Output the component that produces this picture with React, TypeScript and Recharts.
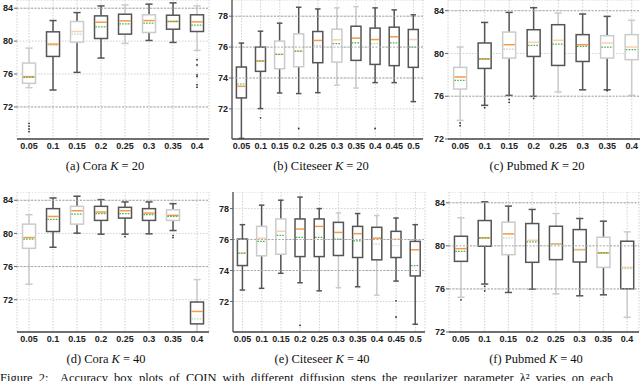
import React from 'react';
import { ComposedChart, Bar, XAxis, YAxis, CartesianGrid, ReferenceLine } from 'recharts';

const stepsTo04 = ['0.05', '0.1', '0.15', '0.2', '0.25', '0.3', '0.35', '0.4'];
const stepsTo05 = ['0.05', '0.1', '0.15', '0.2', '0.25', '0.3', '0.35', '0.4', '0.45', '0.5'];

// each row: [whiskerLow, q1, median, mean, q3, whiskerHigh]
const coraK20Stats = [
  [74.34, 74.87, 75.68, 75.6, 77.33, 79.15],
  [74.06, 78.14, 79.64, 79.47, 81.13, 82.5],
  [76.2, 79.88, 81.17, 80.85, 82.38, 83.47],
  [77.94, 80.32, 82.3, 81.74, 83.07, 84.28],
  [79.72, 80.85, 82.46, 82.1, 83.27, 84.4],
  [80.08, 81.05, 82.5, 82.2, 83.2, 84.5],
  [79.84, 81.45, 82.38, 82.4, 83.15, 84.65],
  [78.87, 81.17, 82.34, 81.94, 83.2, 84.28],
];
const coraK20Outliers = [[70.0, 69.66, 69.33, 69.0], [], [], [], [], [], [], [77.74, 77.1, 75.9, 75.7, 74.7, 74.4]];

const citeseerK20Stats = [
  [70.09, 72.71, 73.46, 73.61, 74.71, 76.26],
  [72.02, 74.43, 75.1, 75.1, 76.0, 77.03],
  [73.03, 74.6, 75.53, 75.53, 76.39, 77.55],
  [72.99, 74.73, 75.74, 75.74, 76.86, 78.58],
  [73.05, 74.99, 76.43, 76.1, 77.01, 78.47],
  [73.53, 75.03, 76.47, 76.22, 77.16, 78.54],
  [73.35, 75.14, 76.58, 76.28, 77.35, 78.62],
  [73.7, 74.88, 76.49, 76.22, 77.23, 78.54],
  [73.7, 74.8, 76.67, 76.28, 77.29, 78.41],
  [72.47, 74.69, 76.49, 76.0, 77.14, 78.09],
];
const citeseerK20Outliers = [[], [71.42], [], [70.73], [], [], [], [70.73], [], []];

const pubmedK20Stats = [
  [73.74, 76.67, 77.8, 77.49, 78.7, 80.6],
  [75.15, 78.6, 79.48, 79.5, 80.98, 82.9],
  [76.08, 79.57, 80.82, 80.41, 82.0, 83.84],
  [75.99, 79.72, 81.04, 80.76, 82.22, 84.28],
  [76.4, 78.88, 81.23, 80.88, 82.69, 83.78],
  [76.6, 79.25, 80.82, 80.66, 81.76, 83.69],
  [76.6, 79.57, 80.98, 80.6, 81.66, 83.47],
  [76.08, 79.42, 80.6, 80.35, 81.76, 83.1],
];
const pubmedK20Outliers = [[73.5, 73.25], [74.93], [75.7, 75.43], [75.8], [], [], [76.52], []];

const coraK40Stats = [
  [73.87, 78.2, 79.5, 79.3, 81.12, 82.26],
  [78.33, 80.23, 82.05, 81.69, 82.99, 84.28],
  [80.03, 81.12, 82.74, 82.34, 83.27, 84.49],
  [79.91, 81.57, 82.58, 82.38, 83.27, 84.08],
  [79.91, 81.85, 82.74, 82.38, 83.15, 83.8],
  [79.95, 81.57, 82.46, 82.26, 82.99, 83.8],
  [80.35, 81.57, 82.18, 82.05, 82.86, 83.59],
  [68.1, 69.08, 70.58, 69.69, 71.72, 74.43],
];
const coraK40Outliers = [[], [], [], [], [79.62], [], [79.74, 79.5], []];

const citeseerK40Stats = [
  [72.74, 74.32, 75.12, 75.12, 76.03, 76.96],
  [72.85, 74.95, 76.09, 75.88, 76.85, 78.22],
  [73.82, 75.05, 76.53, 76.27, 77.33, 78.54],
  [73.21, 74.9, 76.68, 76.14, 77.33, 78.74],
  [72.69, 74.9, 76.85, 76.14, 77.33, 78.0],
  [72.89, 74.97, 76.46, 76.03, 77.11, 77.72],
  [72.95, 74.84, 76.38, 75.92, 76.85, 77.68],
  [72.41, 74.69, 76.09, 75.7, 76.79, 77.55],
  [73.32, 74.84, 76.03, 75.6, 76.53, 77.39],
  [70.53, 73.65, 75.34, 74.32, 75.88, 76.96],
];
const citeseerK40Outliers = [[], [], [], [70.46], [], [], [], [], [72.04, 71.0], []];

const pubmedK40Stats = [
  [75.23, 78.56, 79.74, 79.49, 80.89, 82.6],
  [76.45, 79.96, 80.74, 80.74, 82.35, 84.09],
  [75.67, 79.18, 81.11, 80.74, 82.2, 83.69],
  [75.98, 78.47, 80.52, 80.36, 82.07, 83.38],
  [75.54, 78.72, 80.18, 80.18, 81.82, 83.0],
  [75.36, 78.5, 79.65, 79.65, 81.51, 82.54],
  [75.45, 78.0, 79.34, 79.34, 80.8, 82.29],
  [73.37, 76.01, 78.0, 77.88, 80.43, 81.3],
];
const pubmedK40Outliers = [[74.99], [76.23, 75.82], [], [], [], [], [], []];

const ticks4 = [72, 76, 80, 84];
const ticks2 = [72, 74, 76, 78];

// style codes per box: box edge (D/L), whisker (D/L), median (S/F), mean (S/F)
const coraK20Look = ['LLSS', 'DDSF', 'LDFF', 'DDSS', 'DLSS', 'LDSS', 'DDSS', 'DLSS'];
const citeseerK20Look = ['DDSS', 'DDSS', 'LDFS', 'LDFS', 'DDSF', 'LLFS', 'DLSS', 'DDSF', 'DDSS', 'DDFS'];
const pubmedK20Look = ['LLSS', 'DDSS', 'LDSF', 'DDFS', 'DLFS', 'DDSS', 'LDFS', 'LLFS'];
const coraK40Look = ['LLSS', 'DDSS', 'LDSS', 'DDSS', 'DDSS', 'DDSS', 'LDSS', 'DLSF'];
const citeseerK40Look = ['DDFS', 'LDFS', 'LDFS', 'DDSS', 'DDSS', 'DLSS', 'DDSS', 'DLSF', 'DDFF', 'DDSS'];
const pubmedK40Look = ['DLSS', 'DDSS', 'LDSF', 'DDFS', 'DLSF', 'DDSF', 'LDSS', 'DLFF'];

const DARK = '#555555';
const LIGHT = '#cbcbcb';
const ORANGE = '#f59a45';
const ORANGE_FAINT = '#f8d0ab';
const GREEN = '#4fae4f';
const GREEN_FAINT = '#b8d9b8';

const BoxShape = (props: any) => {
  const { x, y, width, height, payload } = props;
  if (!payload || !payload.stats) return null;
  const [low, q1, med, mean, q3, high] = payload.stats;
  const top = Math.min(y, y + height);
  const h = Math.abs(height);
  const k = h / (high - low);
  const Y = (v: number) => top + (high - v) * k;
  const look: string = payload.look;
  const boxC = look[0] === 'D' ? DARK : LIGHT;
  const whC = look[1] === 'D' ? DARK : LIGHT;
  const medC = look[2] === 'S' ? ORANGE : ORANGE_FAINT;
  const meanC = look[3] === 'S' ? GREEN : GREEN_FAINT;
  const cx = x + width / 2;
  const cap = width * 0.55;
  return (
    <g>
      <line x1={cx} x2={cx} y1={Y(high)} y2={Y(q3)} stroke={whC} strokeWidth={1.5} />
      <line x1={cx} x2={cx} y1={Y(q1)} y2={Y(low)} stroke={whC} strokeWidth={1.5} />
      <line x1={cx - cap / 2} x2={cx + cap / 2} y1={Y(high)} y2={Y(high)} stroke={whC} strokeWidth={1.5} />
      <line x1={cx - cap / 2} x2={cx + cap / 2} y1={Y(low)} y2={Y(low)} stroke={whC} strokeWidth={1.5} />
      <rect x={x} y={Y(q3)} width={width} height={Y(q1) - Y(q3)} fill="#ffffff" stroke={boxC} strokeWidth={1.5} />
      <line x1={x + 0.8} x2={x + width - 0.8} y1={Y(med)} y2={Y(med)} stroke={medC} strokeWidth={1.5} />
      <line x1={x + 0.8} x2={x + width - 0.8} y1={Y(mean)} y2={Y(mean)} stroke={meanC} strokeWidth={1.2} strokeDasharray="1.6 1.2" />
      {(payload.out as number[]).map((v, i) => (
        <circle key={i} cx={cx} cy={Y(v)} r={0.9} fill="#333" />
      ))}
    </g>
  );
};

type PanelProps = {
  cats: string[];
  stats: number[][];
  outliers: number[][];
  look: string[];
  domain: [number, number];
  ticks: number[];
  darkLines: number[];
  left: number;
  top: number;
  width: number;
  height: number;
  yWidth: number;
  marginRight: number;
  leftAxis: boolean;
  rightBorder?: string;
};

const tickFont = { fontSize: 9, fontWeight: 700, fill: '#222', fontFamily: 'Liberation Sans, Arial, sans-serif' };

function Panel(p: PanelProps) {
  const data = p.cats.map((c, i) => ({
    step: c,
    range: [p.stats[i][0], p.stats[i][5]],
    stats: p.stats[i],
    out: p.outliers[i],
    look: p.look[i],
  }));
  return (
    <div style={{ position: 'absolute', left: p.left, top: p.top }}>
      <ComposedChart
        width={p.width}
        height={p.height}
        data={data}
        margin={{ top: 0, right: p.marginRight, bottom: 0, left: 0 }}
        barCategoryGap="23%"
      >
        <CartesianGrid yAxisId="l" stroke="#d0d0d0" strokeDasharray="1.5 1.5" />
        {p.darkLines.map((v) => (
          <ReferenceLine key={v} yAxisId="l" y={v} stroke="#a8a8a8" strokeDasharray="2 1.5" />
        ))}
        <XAxis
          dataKey="step"
          interval={0}
          tickLine={false}
          axisLine={{ stroke: '#444', strokeWidth: 1.5 }}
          tick={tickFont}
          tickSize={2}
          tickMargin={2}
          height={18}
        />
        <YAxis
          yAxisId="l"
          type="number"
          domain={p.domain}
          ticks={p.ticks}
          allowDataOverflow
          width={p.yWidth}
          axisLine={p.leftAxis ? { stroke: '#666', strokeWidth: 1.5 } : false}
          tickLine={{ stroke: '#666' }}
          tickSize={3}
          tickMargin={1}
          tick={tickFont}
        />
        <YAxis
          yAxisId="r"
          orientation="right"
          type="number"
          domain={p.domain}
          width={0}
          tick={false}
          tickLine={false}
          axisLine={p.rightBorder ? { stroke: p.rightBorder, strokeWidth: 2 } : false}
        />
        <Bar yAxisId="l" dataKey="range" shape={BoxShape} isAnimationActive={false} />
      </ComposedChart>
    </div>
  );
}

const capStyle: React.CSSProperties = {
  position: 'absolute',
  width: 200,
  textAlign: 'center',
  fontFamily: '"Liberation Serif", "Times New Roman", serif',
  fontSize: 12.5,
  lineHeight: '14px',
  color: '#111',
  whiteSpace: 'nowrap',
};

function Caption({ cx, top, label, k }: { cx: number; top: number; label: string; k: string }) {
  return (
    <div style={{ ...capStyle, left: cx - 100, top }}>
      {label} <i>K</i>
      <span style={{ marginLeft: 3, marginRight: 3 }}>=</span>
      {k}
    </div>
  );
}

export default function App() {
  return (
    <div style={{ position: 'absolute', left: 0, top: 0, width: 640, height: 381, overflow: 'hidden', background: '#fff' }}>
      <Panel cats={stepsTo04} stats={coraK20Stats} outliers={coraK20Outliers} look={coraK20Look}
        domain={[68.1, 85]} ticks={ticks4} darkLines={[72, 84]}
        left={0} top={0} width={215} height={157} yWidth={17} marginRight={6} leftAxis={false} rightBorder="#a5a5a5" />
      <Panel cats={stepsTo05} stats={citeseerK20Stats} outliers={citeseerK20Outliers} look={citeseerK20Look}
        domain={[70.05, 79.05]} ticks={ticks2} darkLines={[74, 76, 78]}
        left={210} top={0} width={215} height={157} yWidth={22} marginRight={2} leftAxis={true} />
      <Panel cats={stepsTo04} stats={pubmedK20Stats} outliers={pubmedK20Outliers} look={pubmedK20Look}
        domain={[72, 85]} ticks={ticks4} darkLines={[76, 84]}
        left={425} top={0} width={220} height={157} yWidth={23} marginRight={1} leftAxis={false} />
      <Panel cats={stepsTo04} stats={coraK40Stats} outliers={coraK40Outliers} look={coraK40Look}
        domain={[68.1, 85]} ticks={ticks4} darkLines={[76, 84]}
        left={0} top={192} width={215} height={158} yWidth={17} marginRight={6} leftAxis={false} rightBorder="#a5a5a5" />
      <Panel cats={stepsTo05} stats={citeseerK40Stats} outliers={citeseerK40Outliers} look={citeseerK40Look}
        domain={[70.03, 79.07]} ticks={ticks2} darkLines={[74, 76]}
        left={210} top={192} width={217} height={158} yWidth={23} marginRight={2} leftAxis={true} rightBorder="#777777" />
      <Panel cats={stepsTo04} stats={pubmedK40Stats} outliers={pubmedK40Outliers} look={pubmedK40Look}
        domain={[72, 85]} ticks={ticks4} darkLines={[76, 80, 84]}
        left={425} top={192} width={216} height={158} yWidth={24} marginRight={2} leftAxis={false} rightBorder="#555555" />

      <Caption cx={105} top={159} label="(a) Cora" k="20" />
      <Caption cx={321} top={159} label="(b) Citeseer" k="20" />
      <Caption cx={537} top={159} label="(c) Pubmed" k="20" />
      <Caption cx={106} top={352} label="(d) Cora" k="40" />
      <Caption cx={322} top={352} label="(e) Citeseer" k="40" />
      <Caption cx={536} top={352} label="(f) Pubmed" k="40" />

      <div style={{ position: 'absolute', left: 0, top: 371, width: 700, fontFamily: '"Liberation Serif", "Times New Roman", serif', fontSize: 12.5, lineHeight: '14px', color: '#111', whiteSpace: 'nowrap', wordSpacing: 3 }}>
        Figure 2:&nbsp; Accuracy box plots of COIN with different diffusion steps the regularizer parameter λ² varies on each
      </div>
    </div>
  );
}
